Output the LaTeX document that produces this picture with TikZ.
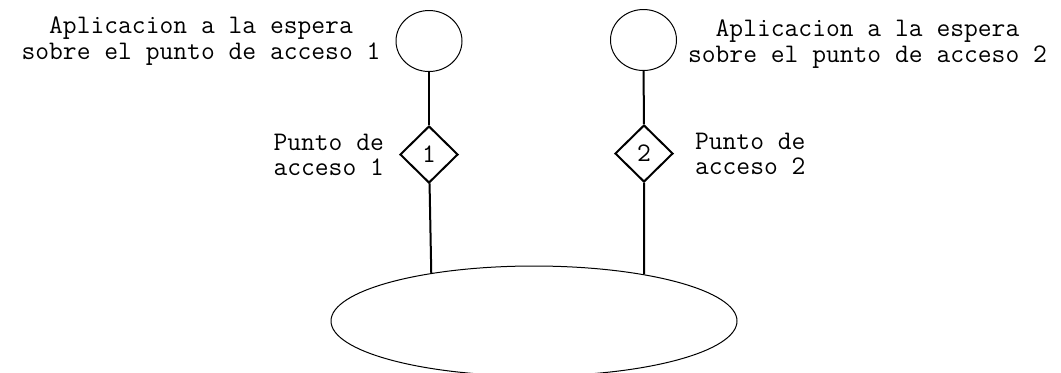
\documentclass[tikz,border=0pt]{standalone}
\usepackage{fontspec}
\usetikzlibrary{shapes.geometric}
\begin{document}
\begin{tikzpicture}[x=0.5pt,y=-0.5pt,
    font=\ttfamily\fontsize{13.4pt}{12.6pt}\selectfont,
    app/.style={ellipse,draw,line width=0.5pt,minimum width=33pt,minimum height=30.5pt},
    acceso/.style={diamond,draw,line width=1pt,minimum width=29pt,minimum height=28.5pt,inner sep=0pt},
    enlace/.style={line width=1pt}]
    \useasboundingbox (0,0) rectangle (1061,372);

    \node[app,label={[align=center,label distance=4pt]west:Aplicacion a la espera\\sobre el punto de acceso 1}] (app1) at (429,41) {};
    \node[app,label={[align=center,label distance=2pt,yshift=-2pt]east:Aplicacion a la espera\\sobre el punto de acceso 2}] (app2) at (643.5,40) {};

    \node[acceso,label={[align=left,label distance=4pt]west:Punto de\\acceso 1}] (pa1) at (429,154.5) {1};
    \node[acceso,label={[align=left,label distance=7pt]east:Punto de\\acceso 2}] (pa2) at (644,153.5) {2};

    \node[ellipse,draw,line width=0.5pt,minimum width=203pt,minimum height=55pt] (red) at (534,321) {};

    \draw[enlace] (app1) -- (pa1);
    \draw[enlace] (app2) -- (pa2);
    \draw[enlace] (pa1) -- (red.155.9);
    \draw[enlace] (pa2) -- (red.23.1);
\end{tikzpicture}
\end{document}
